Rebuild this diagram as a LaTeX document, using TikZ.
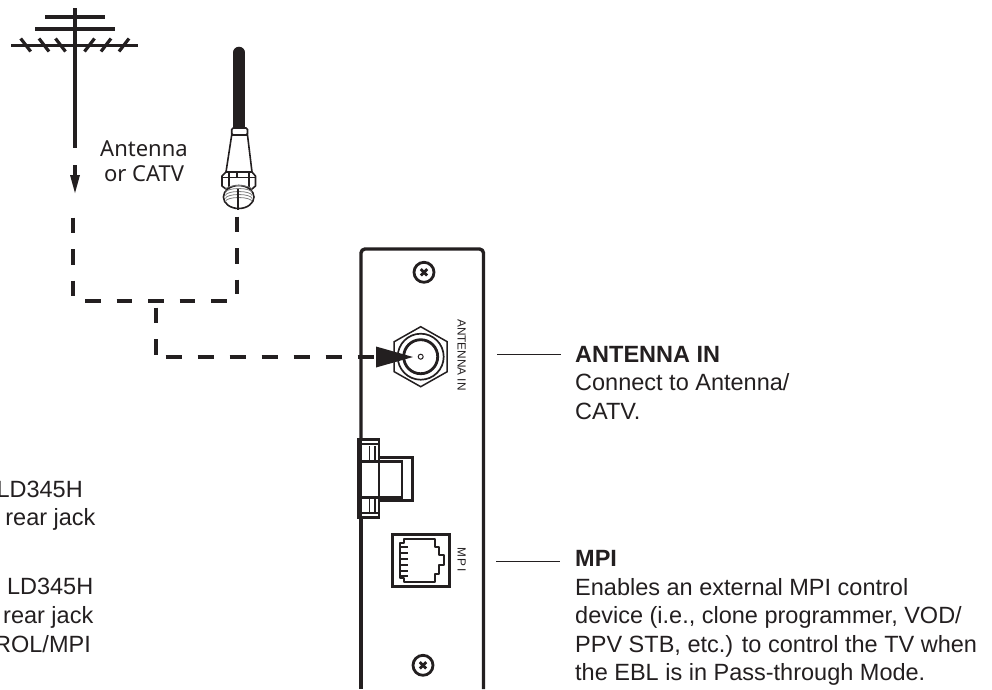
\documentclass[tikz,border=0pt]{standalone}
\usepackage{fontspec}
\setmainfont{Liberation Sans}
\newfontfamily\labelfont{Noto Sans}
\definecolor{inkblk}{HTML}{231F20}
\tikzset{
  feed/.style={line width=4pt,color=inkblk,dash pattern=on 15.5pt off 16pt},
  wire/.style={line width=3.8pt,color=inkblk},
  leader/.style={line width=1pt,color=inkblk},
  panel/.style={line width=3.4pt,color=inkblk,line join=round},
  screwhead/.style={circle,draw=inkblk,line width=2.8pt,minimum size=20pt,inner sep=0pt},
  note/.style={align=left,anchor=north west,inner sep=0pt,text=inkblk,font=\fontsize{23.5}{28.6}\selectfont},
  rearnote/.style={align=right,anchor=north east,inner sep=0pt,text=inkblk,font=\fontsize{23.5}{28.6}\selectfont},
  jacktag/.style={inner sep=0pt,text=inkblk,rotate=-90,font=\fontsize{11.8}{12}\selectfont}
}
\begin{document}
\begin{tikzpicture}[x=1pt,y=-1pt]
  \useasboundingbox (0,0) rectangle (992,689);
  % antenna
  \coordinate (mast) at (75,8);
  \coordinate (mastend) at (75,148);
  \draw[wire] (mast) -- (mastend);
  \draw[wire] (45,17) -- (105,17);
  \draw[wire] (35,29.3) -- (115,29.3);
  \draw[wire] (11,45.5) -- (138,45.5);
  \foreach \x in {25.7,44,60.5}
    \draw[line width=3.2pt,inkblk] (\x-5,38.5) -- (\x+5,51.5);
  \foreach \x in {89.5,106,124}
    \draw[line width=3.2pt,inkblk] (\x-5,51.5) -- (\x+5,38.5);
  \coordinate (arrowtop) at (75,165);
  \coordinate (arrowtip) at (75,193);
  \draw[line width=3.6pt,inkblk] (arrowtop) -- (75,177);
  \fill[inkblk] (70,175) -- (80,175) -- (arrowtip) -- cycle;
  % cable
  \draw[line width=11.6pt,inkblk,line cap=round] (239,52.5) -- (239,128);
  \draw[line width=1.6pt,inkblk,fill=white,rounded corners=1.5pt] (231.7,128) rectangle (247.5,135);
  \draw[line width=1.6pt,inkblk,fill=white] (231.7,135) -- (226,172) -- (252,172) -- (247.5,135) -- cycle;
  \draw[line width=1.6pt,inkblk,fill=white,line join=round] (226,172) -- (222,176) -- (222,186) -- (226,189) -- (252,189) -- (255.5,186) -- (255.5,176) -- (252,172) -- cycle;
  \draw[line width=1.2pt,inkblk] (222,177.5) -- (255.5,177.5) (229,172) -- (229,189) (237,172) -- (237,178) (249,172) -- (249,189);
  \draw[line width=1.6pt,inkblk,fill=white] (238.7,197) ellipse[x radius=15.3,y radius=11.5];
  \foreach \y in {189.5,192.5,195.5,198.5,201.5}
    \draw[line width=.8pt,gray] (225.5,\y) arc[start angle=180,end angle=360,x radius=13.2,y radius=4];
  \draw[line width=2pt,inkblk] (237.5,189) -- (237.5,210);
  % feed lines
  \coordinate (feedl) at (72.5,217.5);
  \coordinate (feedlb) at (72.5,297);
  \coordinate (feedr) at (237.3,216.5);
  \coordinate (feedrb) at (237.3,294);
  \coordinate (barl) at (85,301);
  \coordinate (barr) at (228,301);
  \coordinate (tee) at (156.3,307.7);
  \coordinate (teeb) at (156.3,355);
  \coordinate (runl) at (165.7,357);
  \coordinate (runr) at (376,357);
  \draw[feed] (feedl) -- (feedlb);
  \draw[feed] (feedr) -- (feedrb);
  \draw[feed] (barl) -- (barr);
  \draw[feed] (tee) -- (teeb);
  % panel
  \draw[panel] (361,518) -- (361,689);
  \draw[panel,rounded corners=4pt] (361,439) -- (361,249) -- (483.5,249) -- (483.5,689);
  \node[screwhead] (screwtop) at (424,272.3) {};
  \node[screwhead] (screwbot) at (423,665.3) {};
  \foreach \c in {screwtop,screwbot} {
    \draw[line width=2.8pt,inkblk] (\c.center) ++(-3.2,-3.2) -- ++(6.4,6.4);
    \draw[line width=2.8pt,inkblk] (\c.center) ++(-3.2,3.2) -- ++(6.4,-6.4);
  }
  % antenna jack
  \coordinate (jack) at (420.7,356.7);
  \draw[line width=1.5pt,inkblk] (jack) ++(0,-30) -- ++(26.5,15) -- ++(0,30) -- ++(-26.5,15) -- ++(-26.5,-15) -- ++(0,-30) -- cycle;
  \draw[line width=1.7pt,inkblk] (jack) circle[radius=23];
  \draw[line width=2.8pt,inkblk] (jack) circle[radius=17];
  \draw[line width=1pt,inkblk] (jack) circle[radius=2.5];
  \fill[inkblk] (376,346.5) -- (413,357) -- (376,367.5) -- cycle;
  \draw[feed,dash pattern=on 16pt off 16pt] (runl) -- (runr);
  \node[jacktag] (intag) at (461.7,355) {ANTENNA IN};
  % latch
  \draw[line width=2.8pt,inkblk,fill=white] (379,457.5) rectangle (412.5,500.3);
  \draw[line width=2.4pt,inkblk] (379,461.5) -- (401.7,461.5) -- (401.7,497.5) -- (379,497.5);
  \draw[line width=2.8pt,inkblk,fill=white] (358,439.5) rectangle (379,517.5);
  \draw[line width=2.2pt,inkblk] (358,444) -- (379,444) (358,513) -- (379,513);
  \draw[line width=2.6pt,inkblk] (358,461.5) -- (379,461.5) (358,497.5) -- (379,497.5);
  \draw[line width=2.2pt,inkblk] (360.5,439.5) -- (360.5,517.5);
  \draw[line width=1.8pt,inkblk] (369.5,446) -- (369.5,461) (375,446) -- (375,461);
  \draw[line width=1.8pt,inkblk] (369.5,498) -- (369.5,512) (375,498) -- (375,512);
  % mpi jack
  \draw[line width=3pt,inkblk] (392,534) rectangle (449.3,586.7);
  \draw[line width=2pt,inkblk,line join=round] (403.5,538.5) -- (435,538.5) -- (435,547) -- (438.5,547) -- (438.5,555) -- (444,555) -- (444,565) -- (438.5,565) -- (438.5,573.5) -- (435,573.5) -- (435,582) -- (403.5,582) -- (403.5,578) -- (399.5,578) -- (399.5,542.5) -- (403.5,542.5) -- cycle;
  \foreach \y in {547,553,559,565,571,576}
    \draw[line width=1.6pt,inkblk] (399.5,\y) -- (408,\y);
  \node[jacktag] (mpitag) at (461.7,559.5) {M\kern2pt P\kern2pt I};
  % labels
  \node[font=\labelfont\fontsize{22}{25}\selectfont,align=center,inner sep=0pt,text=inkblk] (catvlab) at (144,161) {Antenna\\or CATV};
  \node[note] (innote) at (575,346) {\textbf{ANTENNA IN}\\Connect to Antenna/\\CATV.};
  \node[note] (mpinote) at (575,550.2) {\textbf{MPI}\\Enables an external MPI control\\device (i.e., clone programmer, VOD/\\PPV STB, etc.) to control the TV when\\the EBL is in Pass-through Mode.};
  \node[rearnote] (rearone) at (95.7,480.5) {LD345H\kern12.7pt\\rear jack};
  \node[rearnote] (reartwo) at (93.5,578.2) {LD345H\\rear jack\\ROL/MPI\kern2.5pt};
  \coordinate (inlead) at (497,354);
  \coordinate (inleadb) at (561,354);
  \coordinate (mpilead) at (496,561.7);
  \coordinate (mpileadb) at (560,561.7);
  \draw[leader] (inlead) -- (inleadb);
  \draw[leader] (mpilead) -- (mpileadb);
\end{tikzpicture}
\end{document}
